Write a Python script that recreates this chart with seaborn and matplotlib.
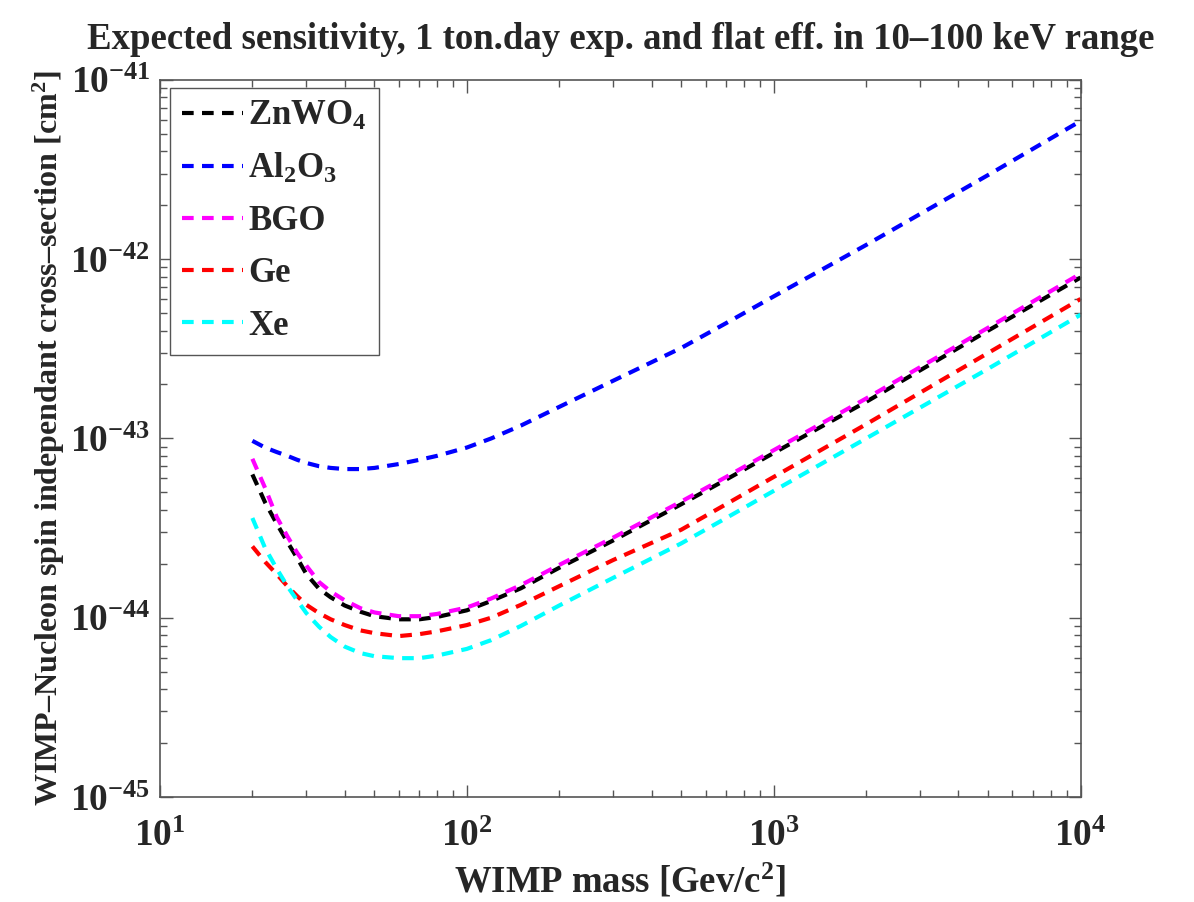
import pandas as pd
import matplotlib
matplotlib.use("Agg")
import matplotlib.pyplot as plt
import seaborn as sns

# WIMP mass grid [GeV/c^2]
mass = [20, 22, 24, 26, 28, 30, 33, 36, 40, 45, 50, 60, 70, 80, 100,
        120, 150, 200, 300, 500, 700, 1000, 2000, 5000, 10000]

# cross-section limits [cm^2]
znwo4 = [6.3e-44, 4.4e-44, 3.35e-44, 2.65e-44, 2.15e-44, 1.75e-44, 1.45e-44, 1.3e-44,
         1.17e-44, 1.08e-44, 1.02e-44, 9.8e-45, 9.8e-45, 1.01e-44, 1.1e-44,
         1.24e-44, 1.46e-44, 1.9e-44, 2.7e-44, 4.3e-44, 5.9e-44, 8.3e-44,
         1.6e-43, 4.0e-43, 7.9e-43]
al2o3 = [9.7e-44, 8.9e-44, 8.4e-44, 8.0e-44, 7.6e-44, 7.3e-44, 7.0e-44, 6.85e-44,
         6.75e-44, 6.75e-44, 6.85e-44, 7.2e-44, 7.6e-44, 8.0e-44, 8.9e-44,
         1.0e-43, 1.18e-43, 1.5e-43, 2.1e-43, 3.2e-43, 4.4e-43, 6.2e-43,
         1.2e-42, 2.95e-42, 5.9e-42]
bgo = [7.7e-44, 5.3e-44, 3.65e-44, 2.85e-44, 2.3e-44, 1.95e-44, 1.58e-44, 1.4e-44,
       1.25e-44, 1.13e-44, 1.07e-44, 1.02e-44, 1.02e-44, 1.05e-44, 1.14e-44,
       1.28e-44, 1.52e-44, 1.97e-44, 2.8e-44, 4.45e-44, 6.1e-44, 8.6e-44,
       1.67e-43, 4.15e-43, 8.3e-43]
ge = [2.5e-44, 2.05e-44, 1.75e-44, 1.5e-44, 1.32e-44, 1.18e-44, 1.06e-44, 9.8e-45,
      9.1e-45, 8.5e-45, 8.2e-45, 7.9e-45, 8.1e-45, 8.4e-45, 9.1e-45,
      1.0e-44, 1.18e-44, 1.5e-44, 2.1e-44, 3.1e-44, 4.3e-44, 6.1e-44,
      1.2e-43, 3.0e-43, 6.0e-43]
xe = [3.6e-44, 2.45e-44, 1.88e-44, 1.5e-44, 1.25e-44, 1.06e-44, 8.9e-45, 7.8e-45,
      6.9e-45, 6.35e-45, 6.1e-45, 5.95e-45, 5.95e-45, 6.15e-45, 6.7e-45,
      7.5e-45, 9.0e-45, 1.17e-44, 1.67e-44, 2.6e-44, 3.6e-44, 5.1e-44,
      1.0e-43, 2.45e-43, 4.9e-43]

names = ["ZnWO$_4$", "Al$_2$O$_3$", "BGO", "Ge", "Xe"]
colors = ["black", "#0000ff", "#ff00ff", "#ff0000", "#00ffff"]
xticks = [1e1, 1e2, 1e3, 1e4]
yticks = [1e-45, 1e-44, 1e-43, 1e-42, 1e-41]

frames = []
for name, vals in zip(names, [znwo4, al2o3, bgo, ge, xe]):
    frames.append(pd.DataFrame({"mass": mass, "sigma": vals, "material": name}))
df = pd.concat(frames, ignore_index=True)

sns.set_style("ticks")
plt.rcParams["font.family"] = ["Liberation Serif", "DejaVu Serif"]
plt.rcParams["font.weight"] = "bold"
plt.rcParams["mathtext.fontset"] = "custom"
plt.rcParams["mathtext.rm"] = "Liberation Serif:bold"
plt.rcParams["mathtext.it"] = "Liberation Serif:bold"
plt.rcParams["mathtext.bf"] = "Liberation Serif:bold"
plt.rcParams["mathtext.default"] = "regular"

fig = plt.figure(figsize=(11.94, 9.02), dpi=100)
ax = fig.add_axes([0.134, 0.1164, 0.771, 0.795])
ax.set_xscale("log")
ax.set_yscale("log")

sns.lineplot(data=df, x="mass", y="sigma", hue="material", style="material",
             palette=dict(zip(names, colors)),
             dashes={n: (2.8, 2.0) for n in names},
             linewidth=3, estimator=None, sort=False, ax=ax)

ax.set_xticks(xticks)
ax.set_yticks(yticks)
ax.set_xlim(10, 1e4)
ax.set_ylim(1e-45, 1e-41)

ax.tick_params(which="both", direction="in", top=True, right=True,
               labelsize=27, color="#555555")
ax.tick_params(which="major", length=9, width=1)
ax.tick_params(which="minor", length=5, width=1)
ax.tick_params(axis="x", pad=16)
ax.tick_params(axis="y", pad=7)
for sp in ax.spines.values():
    sp.set_color("#555555")
    sp.set_linewidth(1.2)

ax.set_title("Expected sensitivity, 1 ton.day exp. and flat eff. in 10\u2013100 keV range",
             fontsize=26.5, fontweight="bold", pad=22)
ax.set_xlabel("WIMP mass [Gev/c$^2$]", fontsize=26.5, fontweight="bold", labelpad=6)
ax.set_ylabel("WIMP\u2013Nucleon spin independant cross\u2013section [cm$^2$]",
              fontsize=23, fontweight="bold", labelpad=2)

handles, labels = ax.get_legend_handles_labels()
ax.legend(handles, labels, loc="upper left", bbox_to_anchor=(0.011, 0.989),
          borderaxespad=0, fontsize=25, frameon=True, fancybox=False,
          edgecolor="#555555", framealpha=1, handlelength=1.75,
          handletextpad=0.15, labelspacing=0.55, borderpad=0.35)

fig.savefig("out.png", dpi=100)
